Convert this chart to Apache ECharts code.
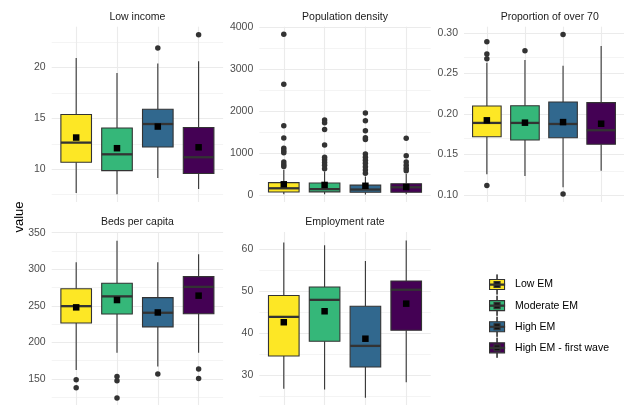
<!DOCTYPE html>
<html><head><meta charset="utf-8">
<script src="https://cdn.jsdelivr.net/npm/echarts@6/dist/echarts.min.js"></script>
<style>html,body{margin:0;padding:0;background:#fff}#c{width:624px;height:405px}</style>
</head><body><div id="c"></div>
<script>
const groups = ['Low EM', 'Moderate EM', 'High EM', 'High EM - first wave'];
const colors = ['#FDE725', '#35B779', '#31688E', '#440154'];
const panelTitles = ['Low income', 'Population density', 'Proportion of over 70', 'Beds per capita', 'Employment rate'];

// box stats per group: [lower whisker, Q1, median, Q3, upper whisker]
const lowIncomeBox = [[7.67, 10.69, 12.62, 15.38, 20.94], [7.54, 9.87, 11.47, 14.06, 19.47], [9.15, 12.19, 14.45, 15.9, 20.39], [8.06, 9.58, 11.18, 14.1, 20.62]];
const lowIncomeMean = [13.12, 12.07, 14.2, 12.16];
const lowIncomeOut = [[2, 21.93], [3, 23.24]];

const popDensityBox = [[15, 72, 160, 295, 600], [20, 75, 140, 285, 560], [10, 65, 130, 235, 440], [15, 64, 184, 270, 500]];
const popDensityMean = [255, 240, 220, 190];
const popDensityOut = [
  [0, 3833], [0, 2640], [0, 1653], [0, 1359], [0, 1113], [0, 1057], [0, 1005], [0, 785], [0, 725], [0, 680],
  [1, 1789], [1, 1725], [1, 1560], [1, 1190], [1, 900], [1, 840], [1, 775], [1, 708], [1, 625],
  [2, 1955], [2, 1770], [2, 1533], [2, 1367], [2, 1325], [2, 980], [2, 900], [2, 830], [2, 755], [2, 675], [2, 596], [2, 517],
  [3, 1352], [3, 937], [3, 785], [3, 712], [3, 637], [3, 580]
];

const over70Box = [[0.1258, 0.172, 0.189, 0.2099, 0.263], [0.1236, 0.168, 0.189, 0.2102, 0.2665], [0.1097, 0.1708, 0.1877, 0.2148, 0.2595], [0.130, 0.1627, 0.180, 0.214, 0.2837]];
const over70Mean = [0.1922, 0.1893, 0.190, 0.188];
const over70Out = [[0, 0.289], [0, 0.274], [0, 0.268], [0, 0.112], [1, 0.278], [2, 0.298], [2, 0.1015]];

const bedsBox = [[162.4, 226.7, 249.6, 273.5, 309.8], [185.8, 238.8, 263, 281, 339], [167, 221.3, 240.6, 261.3, 309.8], [185.8, 239.2, 276, 290, 320.6]];
const bedsMean = [248, 258, 241, 264];
const bedsOut = [[0, 149], [0, 138], [1, 153.4], [1, 147.5], [1, 124.2], [2, 157], [3, 163.7], [3, 150.8]];

const employBox = [[26.87, 34.6, 43.87, 48.94, 61.5], [26.7, 38.1, 47.9, 50.95, 60.86], [24.7, 32.0, 37.0, 46.4, 57.1], [28.4, 40.7, 50.3, 52.35, 61.95]];
const employMean = [42.6, 45.2, 38.7, 47.0];
const employOut = [];

// axis limits and tick labels per panel
const yLimits = [[6.78, 24.02], [-167, 4014], [0.0916, 0.3075], [114.5, 351], [23.0, 63.97]];
const yTicks = [[10, 15, 20], [0, 1000, 2000, 3000, 4000], [0.10, 0.15, 0.20, 0.25, 0.30], [150, 200, 250, 300, 350], [30, 40, 50, 60]];
const yDecimals = [0, 0, 2, 0, 0];

const boxes = [lowIncomeBox, popDensityBox, over70Box, bedsBox, employBox];
const means = [lowIncomeMean, popDensityMean, over70Mean, bedsMean, employMean];
const outs = [lowIncomeOut, popDensityOut, over70Out, bedsOut, employOut];

const FONT = 'Liberation Sans, Arial, sans-serif';
const gridLefts = [51.7, 259.3, 464, 51.7, 259.3];
const gridTops = [26.7, 26.7, 26.7, 232, 232];
const GW = 171.4, GH = 175.3;

const grids = [], xAxes = [], yAxes = [], series = [], graphics = [];

function renderBox(params, api) {
  const x = api.value(0);
  const lo = api.coord([x, api.value(1)]);
  const q1 = api.coord([x, api.value(2)]);
  const md = api.coord([x, api.value(3)]);
  const q3 = api.coord([x, api.value(4)]);
  const hi = api.coord([x, api.value(5)]);
  const w = api.size([0.75, 0])[0];
  const cx = q1[0];
  const fill = api.visual('color');
  return {
    type: 'group',
    children: [
      { type: 'line', shape: { x1: cx, y1: lo[1], x2: cx, y2: q1[1] }, style: { stroke: '#333', lineWidth: 1.1 } },
      { type: 'line', shape: { x1: cx, y1: q3[1], x2: cx, y2: hi[1] }, style: { stroke: '#333', lineWidth: 1.1 } },
      { type: 'rect', shape: { x: cx - w / 2, y: q3[1], width: w, height: q1[1] - q3[1] }, style: { fill: fill, stroke: '#333', lineWidth: 1.1 } },
      { type: 'line', shape: { x1: cx - w / 2, y1: md[1], x2: cx + w / 2, y2: md[1] }, style: { stroke: '#333', lineWidth: 2.3 } }
    ]
  };
}

for (let p = 0; p < 5; p++) {
  grids.push({ left: gridLefts[p], top: gridTops[p], width: GW, height: GH });
  xAxes.push({ gridIndex: p, type: 'value', min: -0.6, max: 3.6, show: false });
  const dec = yDecimals[p];
  const ticks = yTicks[p];
  yAxes.push({
    gridIndex: p, type: 'value', min: yLimits[p][0], max: yLimits[p][1],
    axisLine: { show: false }, axisTick: { show: false }, splitLine: { show: false },
    axisLabel: {
      customValues: ticks,
      color: '#4d4d4d', fontSize: 10.5, fontFamily: FONT, margin: 6,
      formatter: v => ticks.some(t => Math.abs(t - v) < 1e-9) ? v.toFixed(dec) : ''
    }
  });
  // gridlines
  const ml = [];
  const step = ticks[1] - ticks[0];
  const minors = [];
  for (let v = ticks[0] - step / 2; v <= yLimits[p][1]; v += step) {
    if (v >= yLimits[p][0]) minors.push(v);
  }
  minors.forEach(v => ml.push({ yAxis: v, lineStyle: { color: '#ebebeb', width: 0.55, type: 'solid' } }));
  ticks.forEach(v => ml.push({ yAxis: v, lineStyle: { color: '#ebebeb', width: 1.1, type: 'solid' } }));
  groups.forEach((g, i) => ml.push({ xAxis: i, lineStyle: { color: '#ebebeb', width: 1.1, type: 'solid' } }));
  series.push({
    type: 'line', xAxisIndex: p, yAxisIndex: p, data: [], silent: true, z: 0,
    markLine: { silent: true, symbol: ['none', 'none'], label: { show: false }, z: 0, animation: false, data: ml }
  });
  groups.forEach((g, i) => {
    series.push({
      type: 'custom', name: g, xAxisIndex: p, yAxisIndex: p, z: 2,
      itemStyle: { color: colors[i] },
      renderItem: renderBox,
      data: [[i].concat(boxes[p][i])]
    });
  });
  series.push({
    type: 'scatter', xAxisIndex: p, yAxisIndex: p, z: 3, silent: true,
    symbol: 'circle', symbolSize: 5.5, itemStyle: { color: '#333', opacity: 1 },
    data: outs[p]
  });
  series.push({
    type: 'scatter', xAxisIndex: p, yAxisIndex: p, z: 4, silent: true,
    symbol: 'rect', symbolSize: 6.5, itemStyle: { color: '#000', opacity: 1 },
    data: means[p].map((m, i) => [i, m])
  });
  graphics.push({
    type: 'text', x: gridLefts[p] + GW / 2, y: gridTops[p] - 10,
    style: { text: panelTitles[p], font: '10.5px ' + FONT, fill: '#1a1a1a', align: 'center', verticalAlign: 'middle' }
  });
}

graphics.push({
  type: 'text', x: 19, y: 217, rotation: Math.PI / 2,
  style: { text: 'value', font: '13px ' + FONT, fill: '#000', align: 'center', verticalAlign: 'middle' }
});

const legendBase = {
  orient: 'vertical', left: 489, top: 274, padding: 0, itemWidth: 15, itemHeight: 20, itemGap: 0,
  data: groups, selectedMode: false,
  textStyle: { fontSize: 10.5, fontFamily: FONT, color: '#000', padding: [0, 0, 0, 5.5] }
};

const option = {
  animation: false,
  backgroundColor: '#fff',
  grid: grids, xAxis: xAxes, yAxis: yAxes, series: series,
  graphic: graphics,
  legend: [
    Object.assign({}, legendBase, {
      icon: 'path://M7.5 0V5M0 5H15V15H0ZM7.5 15V20',
      itemStyle: { borderColor: '#333', borderWidth: 1.1 }
    }),
    Object.assign({}, legendBase, {
      z: 6,
      icon: 'path://M7.5 0V5M7.5 15V20M0 9.45H15V10.55H0ZM4.5 7H10.5V13H4.5Z',
      itemStyle: { color: '#111', borderColor: '#333', borderWidth: 1.1 },
      formatter: () => ''
    })
  ]
};

const chart = echarts.init(document.getElementById('c'), null, { renderer: 'canvas' });
chart.setOption(option);
</script>
</body></html>
